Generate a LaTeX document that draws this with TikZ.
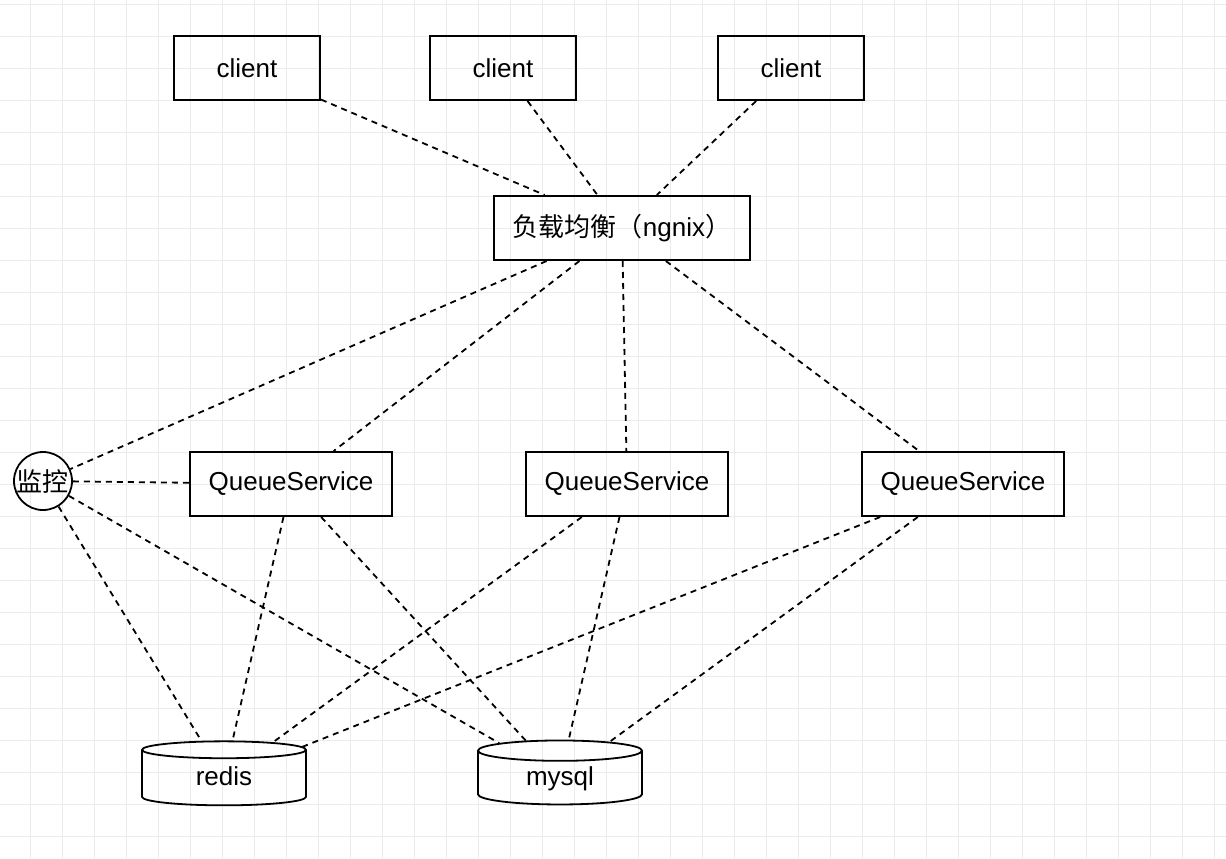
\documentclass[tikz,border=0pt]{standalone}
\usepackage{fontspec}
\setmainfont{Liberation Sans}
\newfontfamily\cjk{Noto Sans CJK SC}
\usetikzlibrary{shapes.geometric}

\tikzset{
  gridline/.style={draw=black!8,line width=0.5pt},
  box/.style={draw,line width=1pt,inner sep=0pt,minimum height=32pt,
    font=\fontsize{13}{15}\selectfont},
  watcher/.style={draw,circle,line width=0.9pt,inner sep=0pt,minimum size=29pt,
    font=\cjk\fontsize{13}{15}\selectfont},
  dbstore/.style={draw,cylinder,shape border rotate=90,aspect=0.3,line width=0.9pt,
    inner sep=0pt,minimum width=82pt,minimum height=32pt,
    text height=9.5pt,text depth=2.5pt,
    font=\fontsize{13}{15}\selectfont},
  link/.style={dash pattern=on 3pt off 2.5pt,line width=0.9pt},
}

\begin{document}
\begin{tikzpicture}[x=0.5pt,y=-0.5pt]
  \useasboundingbox [fill=white] (0,0) rectangle (1226,858);
  \foreach \x in {30.5,62.5,...,1226} \draw [gridline] (\x,0) -- (\x,858);
  \foreach \y in {4,36,...,858} \draw [gridline] (0,\y) -- (1226,\y);

  \node (c1)  [box,minimum width=73pt]  at (247,68)  {client};
  \node (c2)  [box,minimum width=73pt]  at (503,68)  {client};
  \node (c3)  [box,minimum width=73pt]  at (791,68)  {client};
  \node (lb)  [box,minimum width=128pt] at (622,228) {{\cjk 负载均衡（}ngnix{\cjk ）}};
  \node (mon) [watcher]                 at (43,481)  {监控};
  \node (q1)  [box,minimum width=101pt] at (291,484) {QueueService};
  \node (q2)  [box,minimum width=101pt] at (627,484) {QueueService};
  \node (q3)  [box,minimum width=101pt] at (963,484) {QueueService};
  \node (rd)  [dbstore]                 at (224,778) {redis};
  \node (my)  [dbstore]                 at (560,778) {mysql};

  \draw [link] (c1)  to (lb);
  \draw [link] (c2)  to (lb);
  \draw [link] (c3)  to (lb);
  \draw [link] (lb)  to (mon);
  \draw [link] (lb)  to (q1);
  \draw [link] (lb)  to (q2);
  \draw [link] (lb)  to (q3);
  \draw [link] (mon) to (q1);
  \draw [link] (mon) to (rd);
  \draw [link] (mon) to (my);
  \draw [link] (q1)  to (rd);
  \draw [link] (q1)  to (my);
  \draw [link] (q2)  to (rd);
  \draw [link] (q2)  to (my);
  \draw [link] (q3)  to (rd);
  \draw [link] (q3)  to (my);
\end{tikzpicture}
\end{document}
